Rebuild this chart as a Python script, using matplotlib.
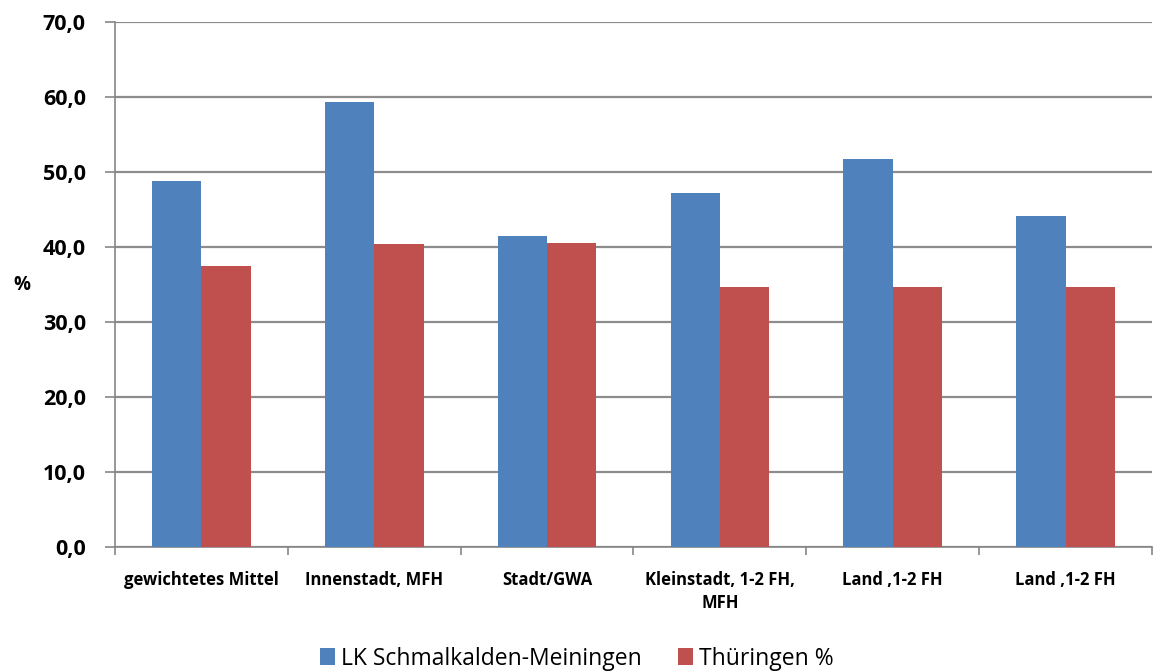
import matplotlib
matplotlib.use("Agg")
import matplotlib.pyplot as plt
import numpy as np

categories = ["gewichtetes Mittel", "Innenstadt, MFH", "Stadt/GWA",
              "Kleinstadt, 1-2 FH,\nMFH", "Land ,1-2 FH", "Land ,1-2 FH"]
lk_values = [48.8, 59.3, 41.5, 47.2, 51.7, 44.2]
th_values = [37.5, 40.4, 40.6, 34.7, 34.7, 34.7]
yticks = [0, 10, 20, 30, 40, 50, 60, 70]
ytick_labels = ["0,0", "10,0", "20,0", "30,0", "40,0", "50,0", "60,0", "70,0"]
series_names = ["LK Schmalkalden-Meiningen", "Thüringen %"]

plt.rcParams['font.family'] = ['Open Sans', 'DejaVu Sans']

fig = plt.figure(figsize=(11.54, 6.71), dpi=100)
ax = fig.add_axes([115/1154, 1-547/671, (1152-115)/1154, (547-22)/671])

x = np.arange(len(categories))
w = 1/3.5
blue = "#4F81BD"
red = "#C0504D"
ax.bar(x - w/2, lk_values, width=w, color=blue, label=series_names[0], zorder=3)
ax.bar(x + w/2, th_values, width=w, color=red, label=series_names[1], zorder=3)

ax.set_xlim(-0.5, len(categories) - 0.5)
ax.set_ylim(0, 70)
ax.set_yticks(yticks)
ax.set_yticklabels(ytick_labels, fontsize=15.5, fontweight='bold')
ax.yaxis.grid(True, color="#8C8C8C", linewidth=1.6, zorder=0)
ax.set_axisbelow(True)

for s in ["top", "right"]:
    ax.spines[s].set_visible(False)
ax.spines["left"].set_color("#868686")
ax.spines["bottom"].set_color("#868686")
ax.spines["left"].set_linewidth(1.2)
ax.spines["bottom"].set_linewidth(1.2)
ax.tick_params(axis='y', length=7, color="#868686", width=1.2, pad=14)

ax.set_xticks(np.arange(len(categories) + 1) - 0.5, minor=False)
ax.set_xticklabels([])
ax.tick_params(axis='x', length=6, color="#868686", width=1.2)
ax.set_xticks(x, minor=True)
ax.set_xticklabels(categories, minor=True, fontsize=12, fontweight='bold',
                   linespacing=1.35, va='top')
ax.tick_params(axis='x', which='minor', length=0, pad=17)

ax.set_ylabel("%", rotation=0, fontsize=13.5, fontweight='bold', va='center', ha='center')
ax.yaxis.set_label_coords(-0.09, 0.5)

fig.legend(loc='lower center', bbox_to_anchor=(0.5, -0.03), ncol=2, frameon=False,
           fontsize=16.5, handlelength=0.65, handleheight=0.7, columnspacing=1.6,
           handletextpad=0.25)

fig.savefig("out.png", dpi=100)
